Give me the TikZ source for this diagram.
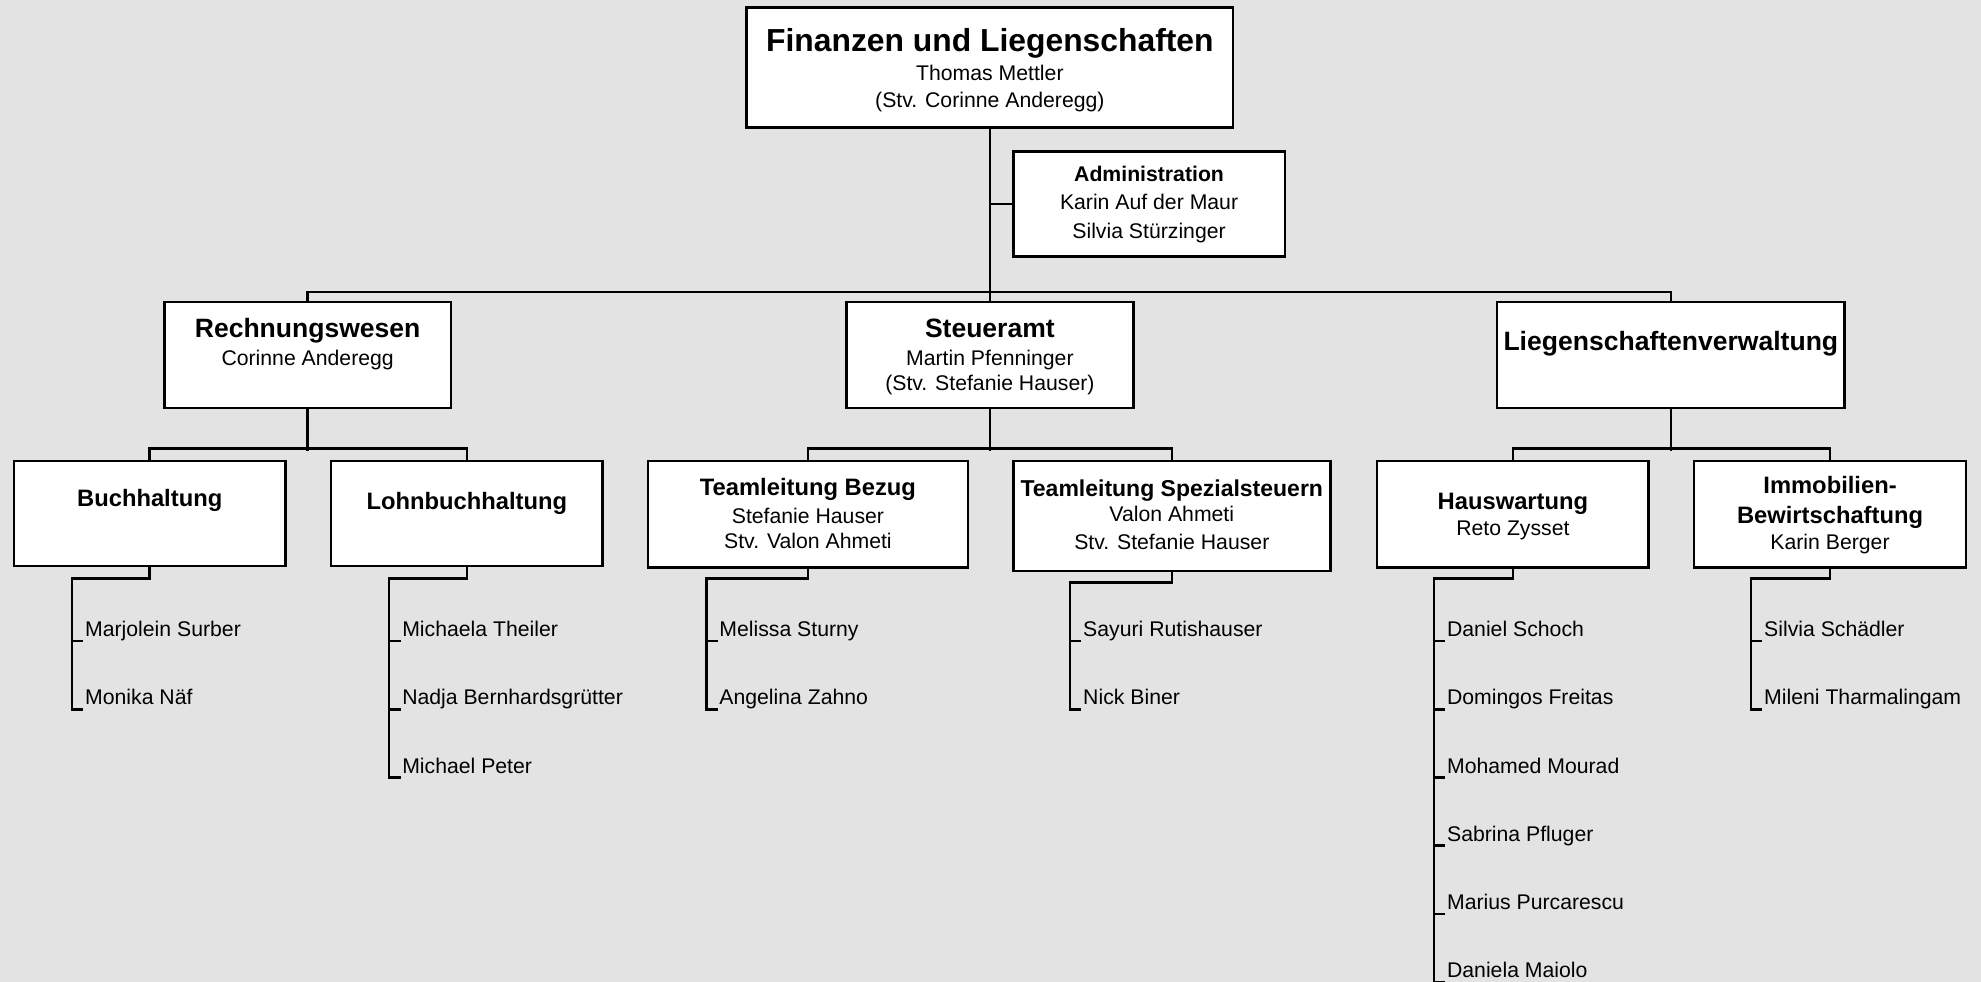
\documentclass[tikz,border=0pt]{standalone}
\usepackage{fontspec}
\setmainfont{Liberation Sans}
\usetikzlibrary{fit}
\definecolor{bg}{RGB}{227,227,227}
\begin{document}
\begin{tikzpicture}[x=0.5pt,y=-0.5pt,
 box/.style={draw=black, fill=white, line width=1pt, inner sep=0pt},
 conn/.style={draw=black, line width=1pt},
 hA/.style={anchor=base, inner sep=0pt, font=\fontsize{12.6}{14}\selectfont\bfseries},
 hB/.style={anchor=base, inner sep=0pt, font=\fontsize{10.5}{12}\selectfont\bfseries},
 hC/.style={anchor=base, inner sep=0pt, font=\fontsize{9.4}{11}\selectfont\bfseries},
 hD/.style={anchor=base, inner sep=0pt, font=\fontsize{8.4}{10}\selectfont\bfseries},
 txt/.style={anchor=base, inner sep=0pt, font=\fontsize{8.4}{10}\selectfont},
 mem/.style={anchor=west, inner xsep=0.5pt, inner ysep=0pt, minimum height=10pt,
   text height=8pt, text depth=1pt, font=\fontsize{8.4}{10}\selectfont},
]
\fill[bg] (0,0) rectangle (1568,777);
\useasboundingbox (0,0) rectangle (1568,777);

% ---------- boxes ----------
\node[box, fit={(591,6)(976,101)}] (fin) {};
\node[box, fit={(802,120)(1017,203)}] (adm) {};
\node[box, fit={(130,239)(357,323)}] (rw) {};
\node[box, fit={(670,239)(897,323)}] (st) {};
\node[box, fit={(1185,239)(1460,323)}] (lv) {};
\node[box, fit={(11,365)(226,448)}] (bh) {};
\node[box, fit={(262,365)(477,448)}] (lb) {};
\node[box, fit={(513,365)(766,449)}] (tb) {};
\node[box, fit={(802,365)(1053,452)}] (ts) {};
\node[box, fit={(1090,365)(1305,449)}] (hw) {};
\node[box, fit={(1341,365)(1556,449)}] (im) {};

% ---------- box texts ----------
\node[hA] (finT) at (783.5,41) {Finanzen und Liegenschaften};
\node[txt] (finA) at (783.5,64) {Thomas Mettler};
\node[txt] (finB) at (783.5,85) {(Stv. Corinne Anderegg)};

\node[hD] (admT) at (909.5,144) {Administration};
\node[txt] (admA) at (909.5,166) {Karin Auf der Maur};
\node[txt] (admB) at (909.5,189) {Silvia Stürzinger};

\node[hB] (rwT) at (243.5,267.5) {Rechnungswesen};
\node[txt] (rwA) at (243.5,289) {Corinne Anderegg};

\node[hB] (stT) at (783.5,267.5) {Steueramt};
\node[txt] (stA) at (783.5,289) {Martin Pfenninger};
\node[txt] (stB) at (783.5,309) {(Stv. Stefanie Hauser)};

\node[hB] (lvT) at (1322.5,277.5) {Liegenschaftenverwaltung};

\node[hC] (bhT) at (118.5,401) {Buchhaltung};
\node[hC] (lbT) at (369.5,403) {Lohnbuchhaltung};

\node[hC] (tbT) at (639.5,392) {Teamleitung Bezug};
\node[txt] (tbA) at (639.5,414) {Stefanie Hauser};
\node[txt] (tbB) at (639.5,434) {Stv. Valon Ahmeti};

\node[hC, font=\fontsize{9.1}{11}\selectfont\bfseries] (tsT) at (927.5,393) {Teamleitung Spezialsteuern};
\node[txt] (tsA) at (927.5,413) {Valon Ahmeti};
\node[txt] (tsB) at (927.5,435) {Stv. Stefanie Hauser};

\node[hC] (hwT) at (1197.5,403) {Hauswartung};
\node[txt] (hwA) at (1197.5,424) {Reto Zysset};

\node[hC] (imT) at (1448.5,391) {Immobilien-};
\node[hC] (imT2) at (1448.5,414) {Bewirtschaftung};
\node[txt] (imA) at (1448.5,435) {Karin Berger};

% ---------- top connectors ----------
\coordinate (bus) at (0,231);
\draw[conn] (fin.south) -- (fin.south |- bus);
\draw[conn] (fin.south |- adm.west) -- (adm.west);
\draw[conn] (rw.north) -- (rw.north |- bus) -- (lv.north |- bus) -- (lv.north);
\draw[conn] (st.north) -- (st.north |- bus);

% ---------- level 3 connectors ----------
\draw[conn] (rw.south) -- ++(0,33);
\draw[conn] (bh.north) -- ++(0,-9) -| (lb.north);
\draw[conn] (st.south) -- ++(0,33);
\draw[conn] (tb.north) -- ++(0,-9) -| (ts.north);
\draw[conn] (lv.south) -- ++(0,33);
\draw[conn] (hw.north) -- ++(0,-9) -| (im.north);

% ---------- member lists ----------
\node[mem] (bh1) at (66,497) {Marjolein Surber};
\node[mem] (bh2) at (66,551) {Monika Näf};
\coordinate (bhL) at (57,458);
\draw[conn] (bh.south) |- (bhL) |- (bh2.south west);
\draw[conn] (bhL) |- (bh1.south west);

\node[mem] (lb1) at (317,497) {Michaela Theiler};
\node[mem] (lb2) at (317,551) {Nadja Bernhardsgrütter};
\node[mem] (lb3) at (317,605) {Michael Peter};
\coordinate (lbL) at (308,458);
\draw[conn] (lb.south) |- (lbL) |- (lb3.south west);
\draw[conn] (lbL) |- (lb1.south west);
\draw[conn] (lbL) |- (lb2.south west);

\node[mem] (tb1) at (568,497) {Melissa Sturny};
\node[mem] (tb2) at (568,551) {Angelina Zahno};
\coordinate (tbL) at (559,458);
\draw[conn] (tb.south) |- (tbL) |- (tb2.south west);
\draw[conn] (tbL) |- (tb1.south west);

\node[mem] (ts1) at (856,497) {Sayuri Rutishauser};
\node[mem] (ts2) at (856,551) {Nick Biner};
\coordinate (tsL) at (847,461);
\draw[conn] (ts.south) |- (tsL) |- (ts2.south west);
\draw[conn] (tsL) |- (ts1.south west);

\node[mem] (hw1) at (1144,497) {Daniel Schoch};
\node[mem] (hw2) at (1144,551) {Domingos Freitas};
\node[mem] (hw3) at (1144,605) {Mohamed Mourad};
\node[mem] (hw4) at (1144,659) {Sabrina Pfluger};
\node[mem] (hw5) at (1144,713) {Marius Purcarescu};
\node[mem] (hw6) at (1144,767) {Daniela Maiolo};
\coordinate (hwL) at (1135,458);
\draw[conn] (hw.south) |- (hwL) |- (hw6.south west);
\foreach \i in {1,...,5} {\draw[conn] (hwL) |- (hw\i.south west);}

\node[mem] (im1) at (1395,497) {Silvia Schädler};
\node[mem] (im2) at (1395,551) {Mileni Tharmalingam};
\coordinate (imL) at (1386,458);
\draw[conn] (im.south) |- (imL) |- (im2.south west);
\draw[conn] (imL) |- (im1.south west);
\end{tikzpicture}
\end{document}
